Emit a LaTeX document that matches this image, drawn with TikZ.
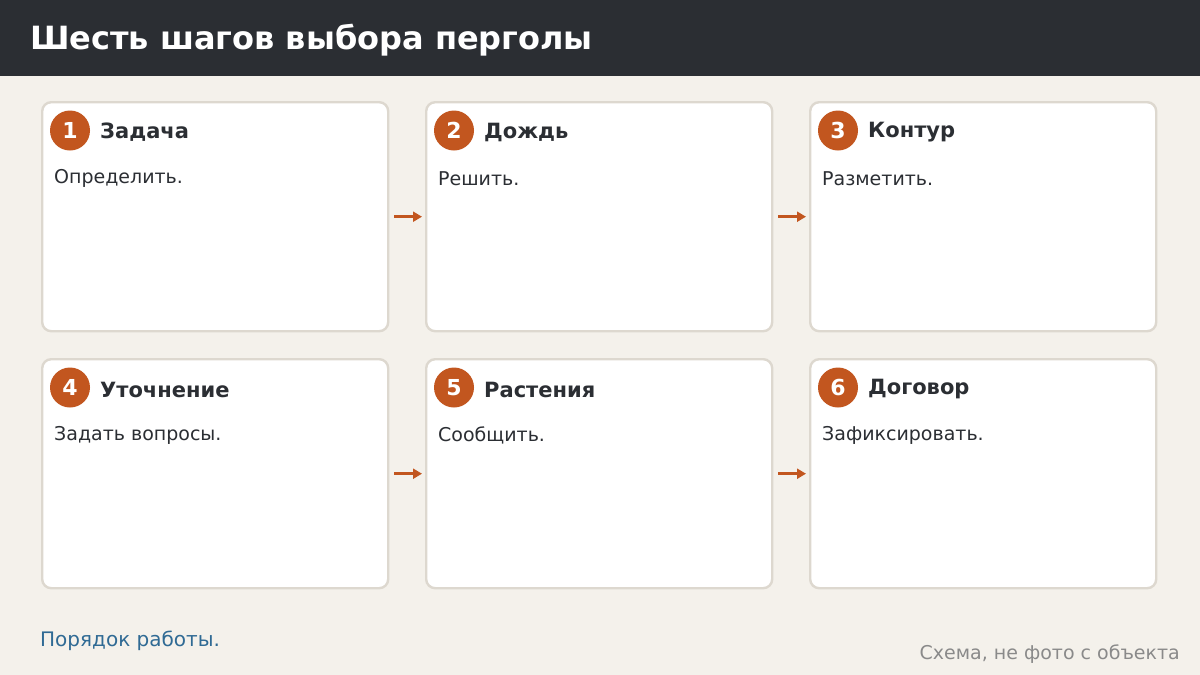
\documentclass[tikz,border=0pt]{standalone}
\usepackage{fontspec}
\setmainfont{DejaVu Sans}
\usetikzlibrary{arrows.meta}
\definecolor{bg}{HTML}{F4F1EB}
\definecolor{hdr}{HTML}{2B2E33}
\definecolor{ink}{HTML}{2B2E33}
\definecolor{orng}{HTML}{C2561F}
\definecolor{brd}{HTML}{DDD8CF}
\definecolor{blu}{HTML}{2F6A94}
\definecolor{gry}{HTML}{8A8A8A}
\tikzset{
  card/.style={draw=brd, line width=2.4pt, fill=white, rounded corners=9pt, minimum width=346pt, minimum height=229pt, inner sep=0pt},
  num/.style={circle, fill=orng, minimum size=40pt, inner sep=0pt, text=white, font=\fontsize{22}{22}\selectfont\bfseries},
  ttl/.style={anchor=west, text=ink, inner sep=0pt, font=\fontsize{21}{21}\selectfont\bfseries},
  body/.style={anchor=west, text=ink, inner sep=0pt, font=\fontsize{19}{19}\selectfont},
  flow/.style={-{Triangle[length=9pt,width=10pt]}, draw=orng, line width=3pt, shorten <=5pt, shorten >=3pt},
}
\begin{document}
\begin{tikzpicture}[x=1pt,y=-1pt]
\useasboundingbox (0,0) rectangle (1200,675);
\fill[bg] (0,0) rectangle (1200,675);
\fill[hdr] (0,0) rectangle (1200,76);
\node[anchor=base west, inner sep=0pt, text=white, font=\fontsize{32}{32}\selectfont\bfseries] (title) at (30,49) {Шесть шагов выбора перголы};
% cards
\foreach \i/\x/\y/\t/\b in {1/41/101/Задача/Определить., 2/425/101/Дождь/Решить., 3/809/101/Контур/Разметить., 4/41/358/Уточнение/Задать вопросы., 5/425/358/Растения/Сообщить., 6/809/358/Договор/Зафиксировать.}{
  \node[card, anchor=north west] (c\i) at (\x,\y) {};
  \node[num] (n\i) at (\x+29,\y+29.5) {\i};
  \node[ttl] (t\i) at (\x+59,\y+31.5) {\t};
  \node[body] (b\i) at (\x+13,\y+77.5) {\b};
}
\draw[flow] (c1.east) -- (c2.west);
\draw[flow] (c2.east) -- (c3.west);
\draw[flow] (c4.east) -- (c5.west);
\draw[flow] (c5.east) -- (c6.west);
\node[anchor=base west, inner sep=0pt, text=blu, font=\fontsize{20}{20}\selectfont] (foot) at (40,646) {Порядок работы.};
\node[anchor=base east, inner sep=0pt, text=gry, font=\fontsize{19}{19}\selectfont] (note) at (1180,659) {Схема, не фото с объекта};
\end{tikzpicture}
\end{document}
